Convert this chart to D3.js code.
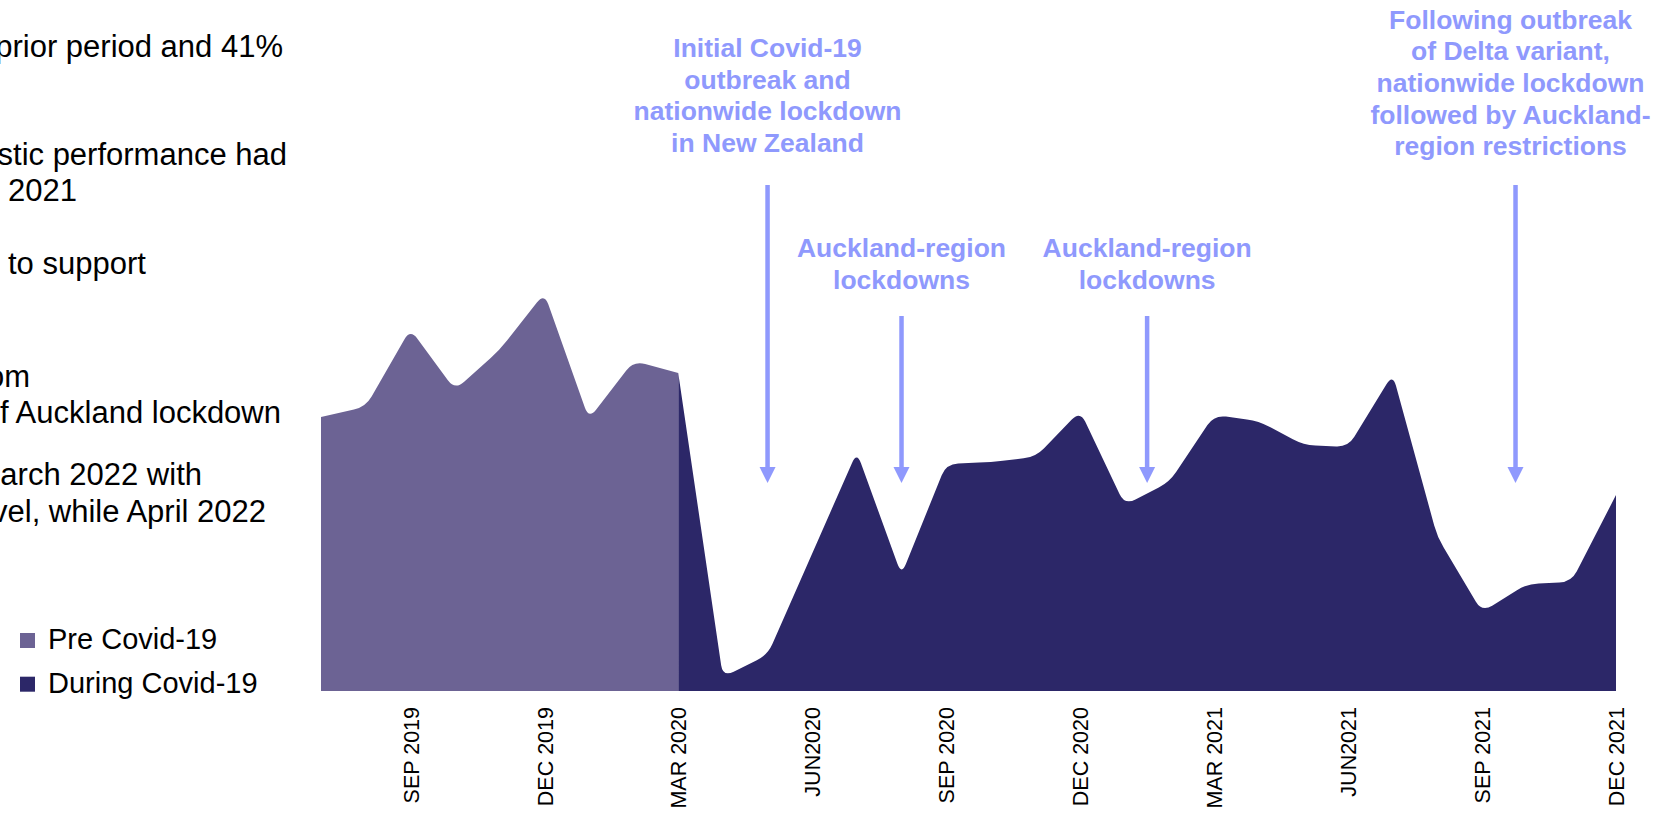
<!DOCTYPE html>
<html>
<head>
<meta charset="utf-8">
<script src="https://cdn.jsdelivr.net/npm/d3@7"></script>
<style>
  html, body { margin: 0; padding: 0; background: #fff; overflow: hidden; }
  svg { display: block; font-family: "Liberation Sans", Arial, sans-serif; }
</style>
</head>
<body>
<svg id="chart" width="1668" height="817"></svg>
<script>
// Monthly series, July 2019 to December 2021 (relative index, peak month = ~100)
const months = [
  "Jul 2019", "Aug 2019", "Sep 2019", "Oct 2019", "Nov 2019", "Dec 2019",
  "Jan 2020", "Feb 2020", "Mar 2020", "Apr 2020", "May 2020", "Jun 2020",
  "Jul 2020", "Aug 2020", "Sep 2020", "Oct 2020", "Nov 2020", "Dec 2020",
  "Jan 2021", "Feb 2021", "Mar 2021", "Apr 2021", "May 2021", "Jun 2021",
  "Jul 2021", "Aug 2021", "Sep 2021", "Oct 2021", "Nov 2021", "Dec 2021"
];

// Pre Covid-19: Jul 2019 - Mar 2020
const preValues = [68.5, 71, 90.5, 75.25, 85.25, 99.5, 68, 82.5, 79.5];
const preStart = 0;

// During Covid-19: Mar 2020 - Dec 2021
const duringValues = [
  79.5, 3.5, 9, 34.4, 59.75, 29, 56.75, 57.25, 58.5, 70,
  46.5, 52.25, 69, 67.5, 61.5, 61, 79.25, 38.5, 19.75, 26.75, 27.25, 49
];
const duringStart = 8;

// Axis labels (one every quarter)
const tickMonths = [2, 5, 8, 11, 14, 17, 20, 23, 26, 29];
const tickLabels = ["SEP 2019", "DEC 2019", "MAR 2020", "JUN2020", "SEP 2020",
                    "DEC 2020", "MAR 2021", "JUN2021", "SEP 2021", "DEC 2021"];

// Event annotations (month index where each arrow points)
const eventMonths = [10, 13, 18.5, 26.75];
const eventTexts = [
  ["Initial Covid-19", "outbreak and", "nationwide lockdown", "in New Zealand"],
  ["Auckland-region", "lockdowns"],
  ["Auckland-region", "lockdowns"],
  ["Following outbreak", "of Delta variant,", "nationwide lockdown", "followed by Auckland-", "region restrictions"]
];

// Commentary fragments at the left edge of the slide
const noteLines = [
  "prior period and 41%",
  "domestic performance had",
  "2021",
  "to support",
  "from",
  "of Auckland lockdown",
  "March 2022 with",
  "level, while April 2022"
];

const legendLabels = ["Pre Covid-19", "During Covid-19"];

// ---------- layout & style ----------
const COLORS = { pre: "#6c6394", during: "#2c2768", note: "#8f99fd", text: "#000" };
const plot = { left: 321, right: 1616, base: 691, top: 291 };

const svg = d3.select("#chart");

const x = d3.scaleLinear().domain([0, months.length - 1]).range([plot.left, plot.right]);
const y = d3.scaleLinear().domain([0, 100]).range([plot.base, plot.top]);

// Straight segments joined by small rounded corners
function RoundedCorners(context, r) { this._context = context; this._r = r; }
RoundedCorners.prototype = {
  areaStart() { this._line = 0; },
  areaEnd() { this._line = NaN; },
  lineStart() { this._pts = []; },
  point(px, py) { this._pts.push([+px, +py]); },
  lineEnd() {
    const p = this._pts, c = this._context, n = p.length;
    if (n) {
      if (this._line) c.lineTo(p[0][0], p[0][1]); else c.moveTo(p[0][0], p[0][1]);
      for (let i = 1; i < n - 1; i++) {
        const [x0, y0] = p[i - 1], [x1, y1] = p[i], [x2, y2] = p[i + 1];
        const d1 = Math.hypot(x1 - x0, y1 - y0), d2 = Math.hypot(x2 - x1, y2 - y1);
        if (!d1 || !d2) { c.lineTo(x1, y1); continue; }
        const r = Math.min(this._r, d1 / 2, d2 / 2);
        c.lineTo(x1 + (x0 - x1) * r / d1, y1 + (y0 - y1) * r / d1);
        c.quadraticCurveTo(x1, y1, x1 + (x2 - x1) * r / d2, y1 + (y2 - y1) * r / d2);
      }
      if (n > 1) c.lineTo(p[n - 1][0], p[n - 1][1]);
    }
    if (this._line || (this._line !== 0 && n === 1)) c.closePath();
    this._line = 1 - this._line;
  }
};
const curveRounded = r => context => new RoundedCorners(context, r);

const area = d3.area()
  .x(d => x(d.i))
  .y0(y(0))
  .y1(d => y(d.v))
  .curve(curveRounded(12));

const preData = preValues.map((v, k) => ({ i: preStart + k, v }));
const duringData = duringValues.map((v, k) => ({ i: duringStart + k, v }));

svg.append("path").datum(duringData).attr("d", area).attr("fill", COLORS.during);
svg.append("path").datum(preData).attr("d", area).attr("fill", COLORS.pre);

// x axis: rotated quarter labels, no line or ticks
const axis = svg.append("g")
  .attr("transform", `translate(0,${plot.base})`)
  .call(d3.axisBottom(x).tickValues(tickMonths).tickFormat((d, i) => tickLabels[i]).tickSize(0));
axis.select(".domain").remove();
axis.selectAll("text")
  .attr("transform", "rotate(-90)")
  .attr("x", -16)
  .attr("y", 0)
  .attr("dy", "0.36em")
  .attr("text-anchor", "end")
  .attr("font-family", "'Liberation Sans', Arial, sans-serif")
  .attr("font-size", 21.5)
  .attr("fill", COLORS.text);

// event arrows and captions
const arrowTops = [185, 316, 316, 185];
const arrowTip = 483;
const captionFirstBaseline = [57, 257, 257, 28.5];
const captionShift = [0, 0, 0, -5];
const captionLead = 31.7;

eventMonths.forEach((m, k) => {
  const ax = x(m);
  const g = svg.append("g");
  g.append("line")
    .attr("x1", ax).attr("x2", ax)
    .attr("y1", arrowTops[k]).attr("y2", arrowTip - 14)
    .attr("stroke", COLORS.note).attr("stroke-width", 4.5);
  g.append("path")
    .attr("d", `M${ax - 8},${arrowTip - 16}L${ax + 8},${arrowTip - 16}L${ax},${arrowTip}Z`)
    .attr("fill", COLORS.note);
  const t = g.append("text")
    .attr("text-anchor", "middle")
    .attr("font-size", 26.5)
    .attr("font-weight", "bold")
    .attr("fill", COLORS.note);
  eventTexts[k].forEach((line, j) => {
    t.append("tspan")
      .attr("x", ax + captionShift[k])
      .attr("y", captionFirstBaseline[k] + j * captionLead)
      .text(line);
  });
});

// commentary lines, clipped by the left edge
const noteLayout = [
  { anchor: "end", x: 283, y: 57 },
  { anchor: "end", x: 287, y: 165 },
  { anchor: "start", x: 8, y: 201 },
  { anchor: "start", x: 8, y: 274 },
  { anchor: "end", x: 30, y: 387 },
  { anchor: "end", x: 281, y: 423 },
  { anchor: "end", x: 202, y: 485 },
  { anchor: "end", x: 266, y: 522 }
];
svg.append("g").selectAll("text")
  .data(noteLines)
  .join("text")
  .attr("x", (d, i) => noteLayout[i].x)
  .attr("y", (d, i) => noteLayout[i].y)
  .attr("text-anchor", (d, i) => noteLayout[i].anchor)
  .attr("font-size", 31)
  .attr("fill", COLORS.text)
  .text(d => d);

// legend
const legend = svg.append("g");
const legendColors = [COLORS.pre, COLORS.during];
legendLabels.forEach((label, k) => {
  const ly = 649 + k * 43.7;
  legend.append("rect")
    .attr("x", 20).attr("y", ly - 16).attr("width", 15).attr("height", 15)
    .attr("fill", legendColors[k]);
  legend.append("text")
    .attr("x", 48).attr("y", ly)
    .attr("font-size", 29)
    .attr("fill", COLORS.text)
    .text(label);
});
</script>
</body>
</html>
